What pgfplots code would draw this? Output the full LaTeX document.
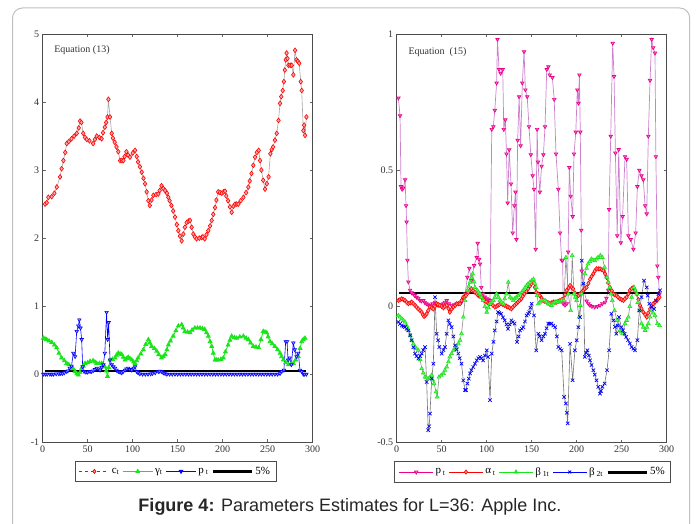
\documentclass[border=0pt]{standalone}
\usepackage{pgfplots}
\pgfplotsset{compat=1.18}
\usepackage{fontspec}
\setmainfont{Liberation Serif}
\newfontfamily\capfont{Liberation Sans}
\definecolor{lgreen}{rgb}{0.1,0.9,0.1}
\definecolor{pline}{rgb}{0.8,0.5,0.8}
\definecolor{frame}{rgb}{0.75,0.75,0.75}
\pgfplotsset{
  common/.style={
    scale only axis, width=270pt, xmin=0, xmax=300,
    xtick={0,50,...,300}, tick align=inside, major tick length=3pt,
    axis line style={black!70, line width=0.8pt},
    tick style={black!60, line width=0.5pt},
    ticklabel style={font=\fontsize{10}{12}\selectfont, text=black!80},
    /pgf/number format/assume math mode=true,
    legend image code/.code={\draw[mark repeat=2,mark phase=2,##1] plot coordinates {(0pt,0pt) (15pt,0pt) (30pt,0pt)};},
    legend style={draw=black!70, line width=0.8pt, fill=white, font=\fontsize{11}{13}\selectfont,
      legend columns=5, inner xsep=4pt, inner ysep=3.5pt,
      /tikz/every even column/.append style={column sep=1pt},
      legend cell align=left},
  },
  five/.style={legend image code/.code={\draw[black, line width=3pt] (0pt,0pt) -- (39pt,0pt);}},
}
\begin{document}
\begin{tikzpicture}
\useasboundingbox (0pt,0pt) rectangle (697pt,524pt);
\draw[frame, line width=1pt, rounded corners=10pt] (12.5pt,-20pt) -- (12.5pt,516pt) -- (689.7pt,516pt) -- (689.7pt,-20pt);

\begin{axis}[common, at={(42.7pt,81.7pt)}, anchor=south west, height=408.3pt,
  ymin=-1, ymax=5, ytick={-1,0,...,5},
  legend style={at={(axis description cs:0.492,-0.046)}, anchor=north}]
\addlegendimage{red, dashed, mark=diamond*, mark options={solid, fill=red!25}}
\addlegendentry{c\textsubscript{t}}
\addlegendimage{lgreen, mark=triangle*}
\addlegendentry{γ\textsubscript{t}}
\addlegendimage{blue, mark=triangle*, mark options={rotate=180}}
\addlegendentry{p\,\textsubscript{t}}
\addlegendimage{five}
\addlegendentry{5\%}
% c_t
\addplot[forget plot, black!35, line width=0.6pt, mark=diamond*, mark size=2.4pt, mark options={draw=red, fill=red!35, line width=0.6pt}] coordinates {
(2.6,2.50)(4.5,2.52)(6.3,2.60)(10,2.61)(13,2.66)(15.6,2.75)(19.3,2.90)(21,3.02)(23,3.14)(25,3.26)(26.7,3.39)(29,3.42)(32,3.46)(35,3.50)(37.8,3.54)(40,3.62)(41.5,3.72)(43,3.70)(45,3.54)(47,3.48)(49,3.45)(52,3.43)(56,3.39)(58,3.45)(60,3.50)(63,3.48)(65.5,3.46)(67,3.55)(69,3.63)(70.5,3.70)(72,3.78)(73,4.04)(74.8,3.78)(76.7,3.54)(78,3.47)(80,3.41)(82,3.34)(84,3.27)(86,3.14)(88,3.14)(89.6,3.14)(91,3.20)(93,3.27)(95,3.22)(97,3.19)(100,3.25)(102.6,3.29)(104.5,3.20)(106,3.12)(108,3.05)(110,2.97)(112,2.88)(113.7,2.80)(115.5,2.68)(117.4,2.55)(119,2.48)(121,2.56)(123,2.63)(126,2.64)(128.5,2.65)(130,2.70)(132,2.77)(134,2.73)(136,2.70)(138,2.66)(139.6,2.60)(141,2.55)(143,2.48)(145,2.40)(147,2.31)(149,2.20)(150.7,2.11)(152.5,2.03)(154.4,1.96)(156.3,2.06)(158,2.16)(160,2.23)(162,2.25)(163.7,2.26)(165.5,2.16)(167.4,2.06)(169,2.02)(171,1.99)(174,2.00)(176.7,2.01)(178,2.02)(180,1.99)(182,2.05)(184,2.11)(186,2.18)(187.8,2.26)(189.5,2.35)(191.5,2.45)(193,2.56)(195,2.68)(197,2.67)(199,2.66)(201,2.68)(202.6,2.69)(204,2.62)(206,2.55)(208,2.46)(210,2.38)(212,2.47)(213.7,2.50)(215.5,2.50)(217.4,2.50)(220,2.55)(223,2.60)(226,2.67)(228.5,2.75)(230,2.84)(232,2.95)(234,3.07)(236,3.19)(238,3.26)(240,3.29)(241.5,3.14)(243,3.00)(245,2.85)(247,2.72)(249,2.80)(251,2.90)(253,3.24)(254.5,3.30)(256,3.34)(258,3.44)(260,3.54)(262,3.73)(263.7,3.98)(265,4.08)(266.7,4.17)(268,4.30)(269,4.47)(270,4.62)(271,4.72)(272,4.64)(273,4.54)(275,4.54)(276.7,4.54)(278.5,4.40)(280.4,4.76)(282,4.62)(283.5,4.60)(285,4.57)(286.7,4.30)(287.8,4.17)(289.6,3.58)(290.5,3.66)(291.5,3.51)(293,3.78)
};
% gamma_t
\addplot[forget plot, lgreen, line width=0.8pt, mark=triangle*, mark size=2.2pt, mark options={fill=lgreen}] coordinates {
(0.7,0.53)(2.5,0.52)(4.4,0.51)(7,0.49)(10,0.47)(13,0.43)(15.5,0.39)(18,0.31)(21,0.24)(24,0.20)(26.7,0.16)(29,0.14)(32,0.11)(34,0.08)(36,0.04)(38,0.01)(39.6,-0.01)(41.5,0.03)(43.3,0.09)(45,0.12)(47,0.16)(50,0.17)(52.6,0.19)(56,0.20)(58,0.18)(60,0.16)(63,0.16)(65.5,0.16)(67,0.14)(69,0.11)(70.5,0.05)(72,-0.03)(73.5,0.10)(74.8,0.21)(77.5,0.22)(80.4,0.24)(82,0.28)(84,0.31)(86,0.30)(87.8,0.29)(89.5,0.25)(91.5,0.21)(93,0.23)(95,0.25)(97,0.23)(99,0.21)(101,0.18)(102.6,0.16)(104.5,0.20)(106,0.24)(109,0.30)(111.8,0.36)(114.5,0.44)(117.4,0.51)(119,0.46)(121,0.41)(124,0.38)(126.7,0.34)(129,0.29)(132,0.24)(134,0.26)(136,0.29)(138,0.36)(139.6,0.43)(142,0.49)(145,0.56)(148,0.64)(150.7,0.71)(154.4,0.73)(156,0.68)(158,0.63)(161,0.62)(163.7,0.61)(166,0.65)(169,0.68)(172,0.68)(174.8,0.68)(177.5,0.67)(180,0.66)(182,0.61)(184,0.56)(186,0.48)(187.8,0.41)(189.5,0.31)(191.5,0.21)(193,0.21)(195,0.21)(198,0.22)(200.7,0.24)(203,0.33)(206,0.43)(208,0.50)(210,0.56)(213,0.54)(215.5,0.53)(219,0.55)(223,0.56)(226,0.53)(228.5,0.51)(231,0.46)(234,0.41)(237,0.40)(240,0.39)(242.5,0.51)(245,0.63)(247,0.62)(248.9,0.61)(250.5,0.55)(252.6,0.48)(255,0.45)(258,0.41)(261,0.36)(263.7,0.31)(265.5,0.26)(267.4,0.21)(270,0.17)(273,0.14)(276,0.15)(278.5,0.16)(281,0.21)(284,0.26)(286,0.38)(287.8,0.48)(289.5,0.51)(291.5,0.53)
};
% p_t
\addplot[forget plot, blue, line width=0.6pt, mark=triangle*, mark size=2pt, mark options={rotate=180, fill=blue!40}] coordinates {
(0.7,0)(3,0)(5,0)(8,0)(10,0)(12,0)(15,0.005)(18,0.005)(20,0.01)(22,0.01)(24,0.02)(26.7,0.04)(28,0.05)(30,0.09)(32,0.12)(34,0.31)(36,0.26)(37.8,0.63)(39.6,0.71)(40.7,0.80)(42,0.68)(43.3,0.51)(44.4,0.11)(46,0.04)(48,0.03)(50,0.03)(52.6,0.04)(54,0.04)(56,0.05)(58,0.07)(60,0.09)(62,0.08)(63.7,0.06)(65.5,0.10)(67.4,0.14)(69,0.31)(71,0.91)(72.2,0.51)(73.3,0.76)(74.8,0.21)(76.7,0.14)(78.5,0.11)(80.4,0.09)(82,0.06)(84,0.04)(86,0.03)(87.8,0.02)(89.5,0.04)(91.5,0.06)(93,0.08)(95,0.09)(97,0.07)(99,0.06)(101,0.09)(102.6,0.11)(104.4,0.04)(106,0.02)(108,0.005)(111,0)(114,0)(117,0)(120,0.005)(122,0.01)(125,0.02)(128.5,0.04)(130,0.045)(132,0.04)(134,0.02)(136,0.01)(138,0)(141,0)(144,0)(147,0)(150,0)(153,0)(156,0)(159,0)(162,0)(165,0)(168,0)(171,0)(174,0)(177,0)(180,0)(183,0)(186,0)(189,0)(192,0)(195,0)(198,0)(201,0)(204,0)(207,0)(210,0)(213,0)(216,0)(219,0)(222,0)(225,0)(228,0)(231,0)(234,0)(237,0)(240,0)(243,0)(246,0)(249,0)(252,0)(255,0)(258,0)(261,0)(263.7,0.01)(265.5,0.04)(268,0.06)(270,0.48)(271.5,0.48)(272.6,0.21)(274.4,0.24)(276.3,0.14)(278.5,0.46)(280,0.36)(282,0.26)(284,0.31)(285.9,0.06)(287.8,0.04)(289.6,0)(291,0)(293,0)
};
\addplot[forget plot, black, line width=2pt] coordinates {(2,0.05)(293,0.05)};
\node[anchor=west, font=\fontsize{10}{12}\selectfont, text=black!80] at (axis description cs:0.03,0.961) {Equation (13)};
\end{axis}

\begin{axis}[common, at={(396.7pt,81.3pt)}, anchor=south west, height=408.7pt,
  ymin=-0.5, ymax=1, ytick={-0.5,0,0.5,1},
  legend image code/.code={\draw[mark repeat=2,mark phase=2,#1] plot coordinates {(0pt,0pt) (17pt,0pt) (34pt,0pt)};},
  legend style={at={(axis description cs:0.504,-0.046)}, anchor=north}]
\addlegendimage{magenta, mark=triangle*, mark options={rotate=180, fill=magenta!40}}
\addlegendentry{p\,\textsubscript{t}}
\addlegendimage{red, mark=diamond*, mark options={fill=red!25}}
\addlegendentry{α\,\textsubscript{t}}
\addlegendimage{lgreen, mark=triangle*}
\addlegendentry{β\,\textsubscript{1t}}
\addlegendimage{blue, mark=x}
\addlegendentry{β\,\textsubscript{2t}}
\addlegendimage{five}
\addlegendentry{5\%}
% p_t
\addplot[forget plot, pline, line width=0.7pt, mark=triangle*, mark size=2pt, mark options={draw=magenta, fill=magenta!50, rotate=180}] coordinates {
(1.9,0.765)(3.7,0.70)(4.8,0.44)(6,0.43)(7.4,0.435)(9.3,0.465)(10.4,0.37)(11,0.31)(11.9,0.17)(13,0.09)(14.8,0.06)(16.5,0.05)(18.5,0.046)(20,0.04)(22,0.034)(24,0.03)(25.9,0.022)(27.5,0.02)(29.6,0.022)(31,0.015)(33,0.01)(35,0.006)(37,0.004)(40,0.01)(42.6,0.016)(44,0.01)(46,0.004)(49,0.006)(51.9,0.01)(53.5,0.016)(55.6,0.022)(58,0.01)(61,0.004)(64,0.006)(66.7,0.01)(69,0.012)(72,0.016)(74,0.03)(76,0.046)(78.5,0.107)(80.7,0.14)(83,0.095)(86,0.15)(88.9,0.18)(90,0.232)(91.5,0.173)(92.6,0.156)(94,0.07)(96,0.046)(98,0.035)(100,0.028)(102,0.025)(103.7,0.022)(105.6,0.65)(107.4,0.66)(109,0.72)(111,0.82)(112,0.98)(113.7,0.87)(115.5,0.856)(117.8,0.87)(119,0.65)(120.7,0.685)(122,0.56)(123.3,0.38)(125,0.575)(127,0.45)(128.9,0.27)(130.7,0.37)(132,0.42)(133,0.246)(134.4,0.61)(136,0.77)(137.7,0.59)(139.6,0.82)(141.5,0.935)(143,0.795)(145,0.77)(147,0.66)(149,0.557)(151,0.48)(152.6,0.43)(154.4,0.21)(156,0.65)(157,0.53)(159,0.42)(161,0.515)(163,0.557)(164.8,0.66)(166.7,0.87)(168.5,0.88)(170,0.85)(173,0.84)(175,0.76)(177,0.56)(179.6,0.43)(181.5,0.27)(183.3,0.17)(184.4,0.17)(185,0.01)(187,0.005)(189,0.01)(190.5,0.2)(191.8,0.51)(193.3,0.405)(195.5,0.33)(197,0.56)(199,0.64)(200.7,0.795)(202,0.746)(203,0.85)(204,0.64)(205,0.28)(205.6,0.13)(208,0.06)(211,0.02)(213,0.01)(214.8,0.004)(217,0)(220,-0.002)(223,0)(225.9,0.004)(228.5,0.01)(231.5,0.016)(233,0.03)(235,0.06)(236,0.356)(237.8,0.625)(240,0.966)(241.5,0.844)(243,0.563)(245,0.26)(246.7,0.576)(249,0.234)(251,0.33)(253.7,0.55)(255.5,0.54)(257.4,0.26)(260,0.246)(263,0.21)(265.5,0.27)(267.4,0.44)(269.6,0.50)(272,0.48)(274,0.465)(276,0.37)(277.8,0.34)(279.6,0.625)(281.5,0.83)(283.3,0.98)(285,0.95)(287,0.93)(288,0.55)(289.6,0.149)(290.7,0.107)(292,0.046)
};
% alpha_t
\addplot[forget plot, black!45, line width=0.6pt, mark=diamond*, mark size=2.2pt, mark options={draw=red, fill=red!40}] coordinates {
(1.9,0.022)(3.7,0.025)(5.6,0.028)(7.5,0.025)(9.3,0.022)(11,0.016)(13,0.01)(15,0.013)(16.7,0.016)(18.5,0.01)(20.4,0.004)(22,-0.002)(24,-0.009)(26,-0.015)(27.8,-0.021)(29,-0.03)(30.4,-0.037)(32,-0.032)(33.3,-0.027)(35,-0.015)(37,-0.002)(39,-0.005)(40.7,-0.009)(42.5,0)(44.4,0.01)(46,0.007)(48,0.004)(50,0)(51.9,-0.005)(53.5,0)(55.6,0.004)(57.5,-0.008)(59,-0.021)(61,-0.01)(63,-0.002)(65,0.004)(66.7,0.01)(68.5,0.01)(70.4,0.01)(72,0.022)(74,0.034)(75.5,0.037)(77,0.04)(79.6,0.052)(81,0.058)(83,0.065)(85,0.058)(87,0.052)(89,0.046)(90.7,0.04)(92.5,0.037)(94,0.034)(96,0.028)(97.8,0.022)(99.5,0.017)(101.5,0.012)(103,0.011)(105,0.01)(107,0.004)(109,-0.002)(111,0.001)(112.6,0.004)(114,0.007)(116,0.01)(118,0.007)(120,0.004)(122,0.001)(123.7,-0.002)(125.5,-0.005)(127.4,-0.009)(129,-0.003)(131,0.004)(133,0.01)(134.8,0.016)(136.5,0.022)(138.5,0.028)(140,0.037)(142,0.046)(144,0.055)(146,0.065)(148,0.075)(149.6,0.083)(152,0.089)(153.5,0.07)(155,0.052)(157,0.046)(159,0.04)(161,0.031)(162.6,0.022)(164.5,0.019)(166.7,0.016)(168.5,0.013)(170,0.01)(172,0.013)(174,0.016)(176,0.016)(177.8,0.016)(179.5,0.019)(181.5,0.022)(183.5,0.025)(185,0.028)(187,0.043)(188.9,0.059)(191,0.068)(192.6,0.077)(194.5,0.07)(196,0.065)(198,0.05)(200,0.034)(202,0.04)(203.7,0.046)(205.5,0.052)(207.4,0.059)(209,0.065)(211,0.07)(213,0.085)(214.8,0.10)(216.5,0.11)(218.5,0.12)(220,0.13)(222,0.138)(224,0.138)(225.9,0.138)(228,0.135)(229.6,0.132)(231.5,0.12)(233,0.107)(235,0.088)(237,0.07)(239,0.058)(240.7,0.046)(242.5,0.043)(244.4,0.04)(246,0.034)(248,0.028)(250,0.025)(251.9,0.022)(253.5,0.028)(255.5,0.034)(257.5,0.046)(259,0.059)(261,0.065)(263,0.07)(265,0.058)(266.7,0.046)(268.5,0.025)(270.4,0.004)(272,-0.008)(274,-0.021)(276,-0.03)(277.8,-0.039)(279.5,-0.024)(281.5,-0.009)(283,0)(285,0.01)(287,0.016)(289,0.022)(290.5,0.028)(292,0.034)
};
% beta_1t
\addplot[forget plot, black!45, line width=0.6pt, mark=triangle*, mark size=2.2pt, mark options={draw=lgreen, fill=lgreen!60}] coordinates {
(1.9,-0.033)(3.7,-0.039)(5.6,-0.045)(7.5,-0.051)(9.3,-0.057)(11,-0.07)(13,-0.088)(15,-0.106)(16.7,-0.124)(18.5,-0.137)(20.4,-0.149)(22,-0.155)(24,-0.161)(26,-0.195)(27.8,-0.228)(29.5,-0.244)(31.5,-0.259)(33,-0.262)(35,-0.265)(37,-0.26)(38.9,-0.252)(40,-0.27)(41.5,-0.283)(43.7,-0.313)(45,-0.332)(47,-0.259)(49.5,-0.252)(51.9,-0.246)(53.5,-0.234)(55.6,-0.222)(57.5,-0.203)(59,-0.185)(61,-0.173)(63,-0.161)(65,-0.155)(66.7,-0.149)(68.5,-0.137)(70.4,-0.124)(72,-0.10)(74,-0.039)(75.9,0.022)(78.5,0.059)(80,0.074)(81.5,0.089)(83,0.105)(84.4,0.12)(86,0.09)(87,0.07)(89.6,0.059)(91,0.052)(92.6,0.046)(94,0.034)(96,0.022)(98,0)(100,-0.021)(102,-0.005)(103.7,0.01)(105.5,0.016)(107.4,0.022)(109,0.034)(111,0.046)(113,0.034)(114.8,0.022)(116.5,0.016)(118.5,0.01)(120,0.028)(122,0.046)(124,0.089)(126,0.034)(128,0.028)(129.6,0.022)(131,0.028)(133,0.034)(135,0.04)(137,0.046)(139,0.052)(140.7,0.059)(142.5,0.068)(144.4,0.077)(146,0.083)(148,0.089)(150,0.095)(152,0.10)(153.5,0.085)(155,0.07)(156,0.04)(157.4,0.01)(159,0.016)(161,0.022)(163,0.022)(164.8,0.022)(166.5,0.016)(168.5,0.01)(170,0.007)(172,0.004)(174,0.01)(176,0.016)(177.8,0.016)(179.6,0.016)(181.5,0.019)(183.3,0.022)(185.9,0.022)(188,0.18)(190.7,0.046)(193.3,-0.015)(195,0.187)(197,0.046)(198.5,0.034)(200,0.022)(202.6,-0.039)(204,0.004)(205.6,0.046)(207.5,0.083)(209,0.12)(211,0.14)(212.6,0.156)(214.5,0.165)(216.3,0.174)(218,0.171)(220,0.168)(222,0.174)(223.7,0.18)(226.3,0.187)(228.5,0.18)(231,0.144)(233.7,0.107)(235,0.088)(236.7,0.07)(238,0.046)(239.6,0.022)(242,-0.015)(244.8,-0.051)(246.5,-0.07)(248,-0.088)(249.5,-0.094)(251,-0.10)(253.7,-0.063)(255.5,-0.051)(257.4,-0.039)(259,0)(261,0.034)(263.7,0.07)(265,0.058)(266.7,0.046)(268,0.015)(269.6,-0.015)(272,-0.063)(274,-0.076)(276,-0.088)(278,-0.076)(279.6,-0.063)(281.5,-0.039)(283.3,-0.015)(285,-0.024)(287,-0.033)(289.6,-0.063)(292,-0.07)
};
% beta_2t
\addplot[forget plot, black!55, line width=0.6pt, mark=x, mark size=2.4pt, mark options={draw=blue, line width=0.7pt}] coordinates {
(1.9,-0.057)(3.7,-0.064)(5.6,-0.07)(7.5,-0.073)(9.3,-0.076)(11,-0.082)(13,-0.088)(15,-0.106)(16.7,-0.124)(18.5,-0.15)(20.4,-0.173)(22,-0.182)(24,-0.191)(26,-0.182)(27.8,-0.173)(29.5,-0.16)(31.5,-0.149)(33.3,-0.277)(35,-0.454)(36,-0.44)(37,-0.393)(38.9,-0.265)(40.7,-0.21)(42.6,0.034)(44.4,-0.10)(46,-0.124)(47.4,-0.149)(50,-0.173)(52,-0.16)(53.7,-0.149)(55.5,-0.1)(57.4,-0.051)(59,-0.064)(61,-0.076)(63,-0.11)(64.8,-0.143)(66.5,-0.158)(68.5,-0.173)(70,-0.19)(72,-0.21)(74,-0.271)(76,-0.307)(77,-0.307)(78.5,-0.283)(80,-0.265)(81.5,-0.246)(83,-0.234)(85,-0.222)(87,-0.21)(88.9,-0.198)(90.7,-0.19)(92.6,-0.185)(94,-0.19)(96,-0.198)(98,-0.18)(100,-0.161)(101.5,-0.185)(103.7,-0.344)(105.6,-0.173)(107.5,-0.13)(109,-0.088)(111,-0.055)(112.6,-0.021)(114,-0.024)(116,-0.027)(118,-0.04)(120,-0.051)(122,-0.066)(123.7,-0.082)(125.5,-0.066)(127.4,-0.051)(129,-0.057)(131,-0.063)(133.7,-0.13)(135.5,-0.11)(137,-0.088)(139,-0.082)(140.7,-0.076)(142.5,-0.055)(144.4,-0.033)(146,-0.027)(147.4,-0.021)(148.5,-0.005)(150,0.01)(152.6,-0.033)(155,-0.161)(157.4,-0.10)(159,-0.11)(161,-0.124)(163,-0.11)(164.8,-0.10)(166.5,-0.08)(168.5,-0.063)(170,-0.063)(172,-0.063)(174,-0.07)(176,-0.076)(178,-0.11)(179.6,-0.149)(181.5,-0.155)(183.3,-0.161)(186,-0.332)(188,-0.356)(189,-0.39)(190,-0.429)(192.6,-0.137)(195.5,-0.271)(198,-0.161)(200,-0.124)(201.9,-0.076)(203.7,-0.039)(205.6,0.168)(207.4,0.083)(209,-0.185)(210.5,-0.17)(211.9,-0.161)(213.5,-0.18)(214.8,-0.198)(216.5,-0.215)(218.5,-0.234)(220,-0.25)(222,-0.271)(224,-0.295)(225.9,-0.32)(227,-0.31)(228.5,-0.295)(231,-0.283)(233.7,-0.234)(236,-0.161)(238.5,-0.027)(241,-0.051)(242.5,-0.075)(244,-0.10)(245.5,-0.07)(247,-0.039)(249.6,-0.076)(251.5,-0.088)(253.3,-0.10)(255,-0.112)(257,-0.124)(259,-0.136)(261,-0.149)(263,-0.155)(264.8,-0.161)(267.4,-0.124)(269.6,-0.015)(272,0.034)(274.8,0.095)(277.8,0.07)(279,0.04)(280.7,0.01)(283.3,-0.002)(286,-0.009)(288,0.022)(290.7,0.046)(292.6,0.059)
};
\addplot[forget plot, black, line width=1.6pt] coordinates {(2,0.049)(293,0.049)};
\node[anchor=west, font=\fontsize{10}{12}\selectfont, text=black!80] at (axis description cs:0.031,0.956) {Equation\ \ (15)};
\end{axis}

\node[font=\capfont\fontsize{18}{21}\selectfont, text=black!85] at (350pt,17pt) {\textbf{Figure 4:} Parameters Estimates for L=36: Apple Inc.};
\end{tikzpicture}
\end{document}
